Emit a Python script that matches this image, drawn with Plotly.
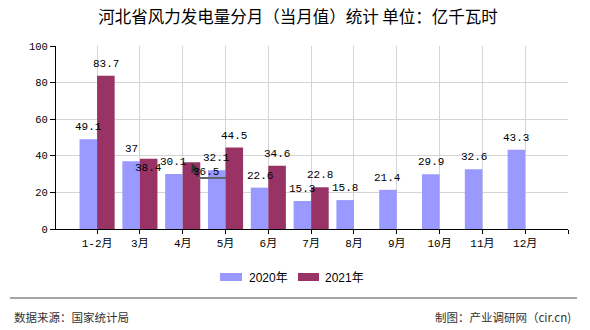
import plotly.graph_objects as go

# ---- data ----
categories = ["1-2月", "3月", "4月", "5月", "6月", "7月", "8月", "9月", "10月", "11月", "12月"]
values_2020 = [49.1, 37, 30.1, 32.1, 22.6, 15.3, 15.8, 21.4, 29.9, 32.6, 43.3]
values_2021 = [83.7, 38.4, 36.5, 44.5, 34.6, 22.8, None, None, None, None, None]
series_names = ["2020年", "2021年"]
y_ticks = [0, 20, 40, 60, 80, 100]

# ---- style ----
C_2020 = "#9999FF"
C_2021 = "#993366"
MONO = "Liberation Mono, Noto Sans CJK SC, monospace"
CJK = "Noto Sans CJK SC, sans-serif"

W, H = 590, 330
L, R, T, B = 56, 568, 46, 229  # plot area in px


def px(xp):
    return (xp - L) / (R - L)


def py(yp):
    return (B - yp) / (B - T)


xs = list(range(len(categories)))
BARGAP = 0.18
off = (1 - BARGAP) / 4  # center offset of each bar in a pair

fig = go.Figure()
fig.add_trace(go.Bar(x=xs, y=values_2020, name=series_names[0], marker_color=C_2020,
                     marker_line_width=0, offsetgroup="a"))
fig.add_trace(go.Bar(x=xs, y=values_2021, name=series_names[1], marker_color=C_2021,
                     marker_line_width=0, offsetgroup="b"))

LBL = dict(family=MONO, size=11, color="#000")
annotations = []
shapes = []
for i, v in enumerate(values_2020):
    if v is None:
        continue
    annotations.append(dict(x=i - off, y=v, xref="x", yref="y", text=f"{v:g}", showarrow=False,
                            yshift=12, font=LBL))
for i, v in enumerate(values_2021):
    if v is None:
        continue
    a = dict(x=i + off, y=v, xref="x", yref="y", text=f"{v:g}", showarrow=False,
             yshift=12, font=LBL)
    if i == 1:
        a["yshift"] = -9
    if i == 2:
        # displaced label with leader line
        a.update(xshift=15, yshift=-10)
        annotations.append(dict(x=i + off, y=v, xref="x", yref="y", text="", showarrow=True,
                                ax=7, ay=16, arrowhead=2, arrowsize=1.2, arrowwidth=1.5,
                                arrowcolor="#333", standoff=1))
        shapes.append(dict(type="line", xref="paper", yref="paper", x0=px(198), x1=px(226),
                           y0=py(178), y1=py(178), line=dict(color="#666", width=2)))
    annotations.append(a)

# legend (manual)
legend_items = [(220, 242, 247, C_2020, series_names[0]), (298, 319, 323, C_2021, series_names[1])]
for x0, x1, xt, col, name in legend_items:
    shapes.append(dict(type="rect", xref="paper", yref="paper", x0=px(x0), x1=px(x1),
                       y0=py(281), y1=py(273), fillcolor=col, line_width=0))
    annotations.append(dict(xref="paper", yref="paper", x=px(xt), y=py(277.5), text=name,
                            showarrow=False, xanchor="left", yanchor="middle",
                            font=dict(family="Liberation Sans, Noto Sans CJK SC", size=12, color="#000")))

# footer
shapes.append(dict(type="line", xref="paper", yref="paper", x0=px(10), x1=px(577),
                   y0=py(298), y1=py(298), line=dict(color="#888888", width=1.5)))
annotations.append(dict(xref="paper", yref="paper", x=px(12), y=py(317), text="数据来源：国家统计局",
                        showarrow=False, xanchor="left", yanchor="middle",
                        font=dict(family=CJK, size=11.5, color="#333")))
annotations.append(dict(xref="paper", yref="paper", x=px(573), y=py(317), text="制图：产业调研网（cir.cn)",
                        showarrow=False, xanchor="right", yanchor="middle",
                        font=dict(family=CJK, size=11.5, color="#333")))

fig.update_layout(
    width=W, height=H,
    margin=dict(l=L, r=W - R, t=T, b=H - B, pad=0),
    paper_bgcolor="white", plot_bgcolor="white",
    barmode="group", bargap=BARGAP, bargroupgap=0,
    showlegend=False,
    title=dict(text="河北省风力发电量分月（当月值）统计 单位：亿千瓦时", x=298 / W, xanchor="center",
               y=1 - 17 / H, yanchor="middle",
               font=dict(family=CJK, size=16.5, color="#000")),
    annotations=annotations, shapes=shapes,
)
fig.update_xaxes(
    range=[-0.96, 11], tickmode="array", tickvals=list(range(len(categories) + 1)),
    ticktext=categories + [""], ticks="outside", ticklen=4, tickcolor="#000",
    showline=True, linecolor="#000", linewidth=1,
    showgrid=True, gridcolor="#d4d4d4", gridwidth=1, zeroline=False,
    tickfont=dict(family=MONO, size=11, color="#000"),
)
fig.update_yaxes(
    range=[0, 100], tickmode="array", tickvals=y_ticks, ticks="outside", ticklen=5, tickcolor="#000",
    showline=True, linecolor="#000", linewidth=1,
    showgrid=True, gridcolor="#d4d4d4", gridwidth=1, zeroline=False,
    tickfont=dict(family=MONO, size=10.5, color="#000"),
)

fig.write_html("out.html")
